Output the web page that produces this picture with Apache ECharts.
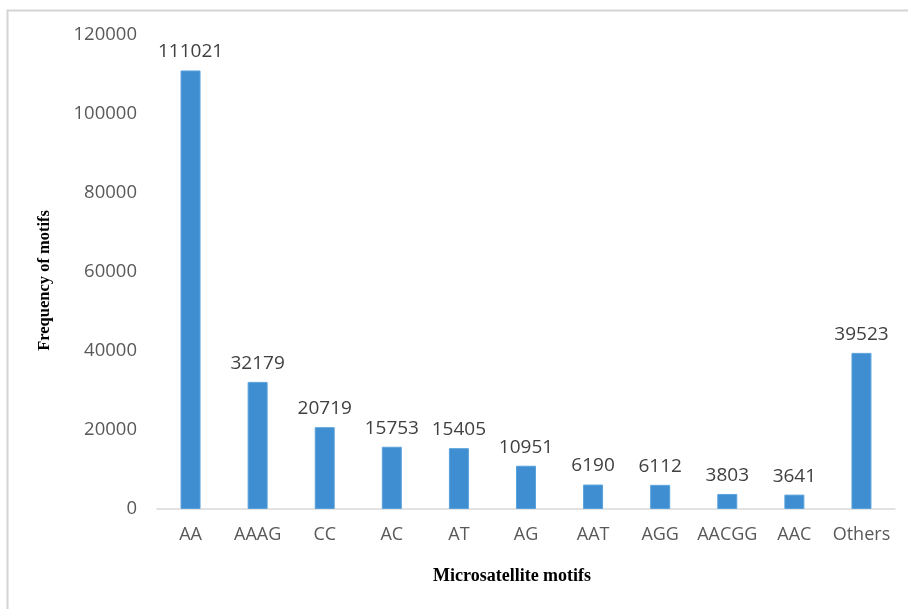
<!DOCTYPE html>
<html>
<head>
<meta charset="utf-8">
<script src="https://cdn.jsdelivr.net/npm/echarts@6/dist/echarts.min.js"></script>
<style>
  html, body { margin: 0; padding: 0; background: #fff; }
  #chart { width: 908px; height: 609px; }
</style>
</head>
<body>
<div id="chart"></div>
<script>
// Motif categories and their counts
const motifs = ['AA', 'AAAG', 'CC', 'AC', 'AT', 'AG', 'AAT', 'AGG', 'AACGG', 'AAC', 'Others'];
const counts = [111021, 32179, 20719, 15753, 15405, 10951, 6190, 6112, 3803, 3641, 39523];
const yTicks = [0, 20000, 40000, 60000, 80000, 100000, 120000];

const chart = echarts.init(document.getElementById('chart'));
const labelFont = '"Open Sans", "Noto Sans", sans-serif';

chart.setOption({
  animation: false,
  backgroundColor: '#ffffff',
  graphic: [
    {
      type: 'rect',
      shape: { x: 7.5, y: 10.5, width: 920, height: 620 },
      style: { fill: 'none', stroke: '#d4d4d4', lineWidth: 2 },
      silent: true
    },
    {
      type: 'text',
      left: 433,
      top: 567,
      style: {
        text: 'Microsatellite motifs',
        font: 'bold 18px "Liberation Serif", "Times New Roman", serif',
        fill: '#000000'
      }
    },
    {
      type: 'text',
      left: 36,
      top: 210,
      rotation: Math.PI / 2,
      originX: 0,
      originY: 0,
      style: {
        text: 'Frequency of motifs',
        font: 'bold 16.5px "Liberation Serif", "Times New Roman", serif',
        fill: '#000000'
      }
    }
  ],
  grid: { left: 157, right: 13, top: 35, bottom: 100 },
  xAxis: {
    type: 'category',
    data: motifs,
    axisLine: { lineStyle: { color: '#d9d9d9', width: 1.5 } },
    axisTick: { show: false },
    axisLabel: {
      color: '#595959',
      fontSize: 18,
      fontFamily: labelFont,
      margin: 17,
      interval: 0
    }
  },
  yAxis: {
    type: 'value',
    min: yTicks[0],
    max: yTicks[yTicks.length - 1],
    interval: yTicks[1] - yTicks[0],
    axisLine: { show: false },
    axisTick: { show: false },
    splitLine: { show: false },
    axisLabel: {
      color: '#595959',
      fontSize: 18.5,
      fontFamily: labelFont,
      margin: 20,
      formatter: v => String(v)
    }
  },
  series: [{
    type: 'bar',
    data: counts,
    barWidth: 20,
    itemStyle: { color: '#3f8ed1', borderColor: '#5aa2dc', borderWidth: 1 },
    label: {
      show: true,
      position: 'top',
      distance: 9,
      color: '#404040',
      fontSize: 19,
      fontFamily: labelFont
    }
  }]
});
</script>
</body>
</html>
